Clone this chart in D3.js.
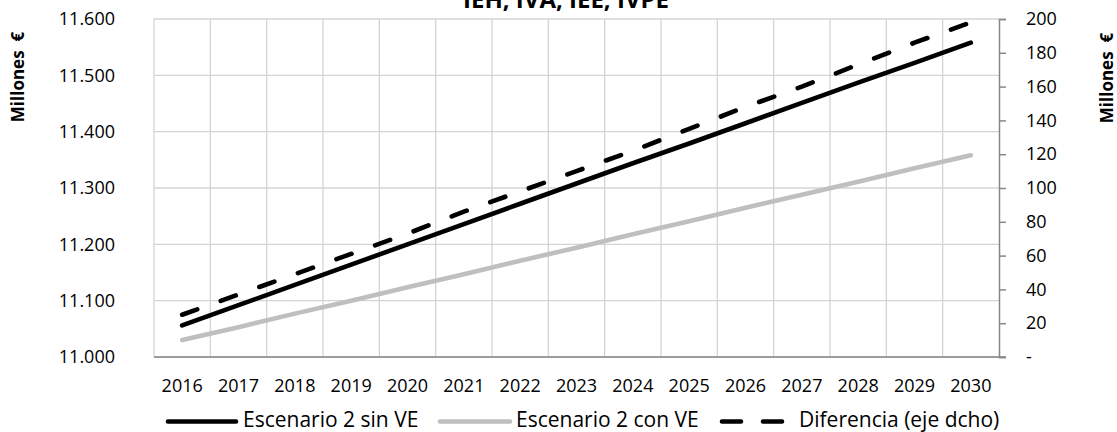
<!DOCTYPE html>
<html>
<head>
<meta charset="utf-8">
<script src="https://cdn.jsdelivr.net/npm/d3@7"></script>
<style>
  html, body { margin: 0; padding: 0; background: #fff; }
  svg { display: block; font-family: "Open Sans", sans-serif; }
</style>
</head>
<body>
<svg id="chart" width="1117" height="432"></svg>
<script>
// Recaudación IEH, IVA, IEE, IVPE (millones de euros)
const years = ["2016","2017","2018","2019","2020","2021","2022","2023","2024","2025","2026","2027","2028","2029","2030"];
const sinVE = [11056, 11092, 11128, 11164, 11200, 11236, 11272, 11308, 11344, 11379, 11415, 11451, 11487, 11522, 11558];
const conVE = [11030, 11053, 11077, 11100, 11124, 11147, 11171, 11194, 11218, 11241, 11265, 11288, 11311, 11335, 11358];
const diferencia = [25, 37, 49, 61, 73, 86, 98, 110, 122, 135, 148, 160, 173, 186, 198];
const leftTicks = [11000, 11100, 11200, 11300, 11400, 11500, 11600];
const rightTicks = [0, 20, 40, 60, 80, 100, 120, 140, 160, 180, 200];
const seriesNames = ["Escenario 2 sin VE", "Escenario 2 con VE", "Diferencia (eje dcho)"];

const FONT = "Open Sans";
const TICK_SIZE = 18;
const svg = d3.select("#chart");
const m = { left: 154, right: 999, top: 19, bottom: 357 };

const x = d3.scaleBand().domain(years).range([m.left, m.right]);
const yL = d3.scaleLinear().domain([11000, 11600]).range([m.bottom, m.top]);
const yR = d3.scaleLinear().domain([0, 200]).range([m.bottom, m.top]);
const cx = d => x(d) + x.bandwidth() / 2;

// Spanish number format: thousands separated by "."
const fmtES = d3.formatLocale({ decimal: ",", thousands: ".", grouping: [3], currency: ["", "€"] }).format(",.0f");

// Horizontal gridlines (left axis)
svg.append("g").selectAll("line").data(leftTicks).join("line")
  .attr("x1", m.left).attr("x2", m.right)
  .attr("y1", d => yL(d)).attr("y2", d => yL(d))
  .attr("stroke", "#d4d4d4").attr("stroke-width", 1.3);

// Vertical gridlines at category boundaries
svg.append("g").selectAll("line").data(years).join("line")
  .attr("x1", d => x(d)).attr("x2", d => x(d))
  .attr("y1", m.top).attr("y2", m.bottom)
  .attr("stroke", "#d4d4d4").attr("stroke-width", 1.3);

// Category axis line
svg.append("line")
  .attr("x1", m.left).attr("x2", m.right + 7)
  .attr("y1", m.bottom).attr("y2", m.bottom)
  .attr("stroke", "#868686").attr("stroke-width", 1.5);

// Right axis
const rightAxis = d3.axisRight(yR).tickValues(rightTicks).tickSize(7).tickPadding(20)
  .tickFormat(d => d === 0 ? "-" : d);
const gR = svg.append("g").attr("transform", `translate(${m.right},0)`).call(rightAxis);
gR.select(".domain").attr("stroke", "#868686").attr("stroke-width", 1.5);
gR.selectAll(".tick line").attr("stroke", "#868686").attr("stroke-width", 1.5);
gR.selectAll(".tick text").attr("font-size", TICK_SIZE).attr("fill", "#000").attr("font-family", FONT);

// Left axis labels
const leftAxis = d3.axisLeft(yL).tickValues(leftTicks).tickSize(0).tickPadding(39)
  .tickFormat(d => fmtES(d));
const gL = svg.append("g").attr("transform", `translate(${m.left},0)`).call(leftAxis);
gL.select(".domain").remove();
gL.selectAll(".tick text").attr("font-size", TICK_SIZE).attr("fill", "#000").attr("font-family", FONT);

// Year labels
const bottomAxis = d3.axisBottom(x).tickSize(0).tickPadding(22);
const gB = svg.append("g").attr("transform", `translate(0,${m.bottom})`).call(bottomAxis);
gB.select(".domain").remove();
gB.selectAll(".tick text").attr("font-size", TICK_SIZE).attr("fill", "#000").attr("font-family", FONT);

// Series
const lineL = d3.line().x((d, i) => cx(years[i])).y(d => yL(d));
const lineR = d3.line().x((d, i) => cx(years[i])).y(d => yR(d));

svg.append("path").datum(conVE).attr("d", lineL)
  .attr("fill", "none").attr("stroke", "#bfbfbf").attr("stroke-width", 4.6).attr("stroke-linecap", "round");
svg.append("path").datum(sinVE).attr("d", lineL)
  .attr("fill", "none").attr("stroke", "#000").attr("stroke-width", 4.6).attr("stroke-linecap", "round");
svg.append("path").datum(diferencia).attr("d", lineR)
  .attr("fill", "none").attr("stroke", "#000").attr("stroke-width", 4.6)
  .attr("stroke-linecap", "round").attr("stroke-dasharray", "16 25");

// Title (partly above the top edge)
svg.append("text").attr("x", 566).attr("y", 8).attr("text-anchor", "middle")
  .attr("font-size", 24).attr("font-weight", "bold").attr("font-family", FONT)
  .text("IEH, IVA, IEE, IVPE");

// Axis titles
svg.append("text").attr("transform", "translate(24,77) rotate(-90)").attr("text-anchor", "middle")
  .attr("font-size", 17).attr("font-weight", "bold").attr("font-family", FONT)
  .text("Millones\u00a0\u00a0€");
svg.append("text").attr("transform", "translate(1113,78) rotate(-90)").attr("text-anchor", "middle")
  .attr("font-size", 17).attr("font-weight", "bold").attr("font-family", FONT)
  .text("Millones\u00a0\u00a0€");

// Legend
const legend = [
  { name: seriesNames[0], x1: 168, x2: 236, tx: 243, color: "#000", dash: null },
  { name: seriesNames[1], x1: 440, x2: 510, tx: 516, color: "#bfbfbf", dash: null },
  { name: seriesNames[2], x1: 722, x2: 784, tx: 799, color: "#000", dash: "19 22" }
];
const gLeg = svg.append("g");
legend.forEach(l => {
  gLeg.append("line").attr("x1", l.x1).attr("x2", l.x2).attr("y1", 421.5).attr("y2", 421.5)
    .attr("stroke", l.color).attr("stroke-width", 4.6).attr("stroke-linecap", "round")
    .attr("stroke-dasharray", l.dash);
  gLeg.append("text").attr("x", l.tx).attr("y", 427)
    .attr("font-size", 21).attr("font-family", FONT).text(l.name);
});
</script>
</body>
</html>
